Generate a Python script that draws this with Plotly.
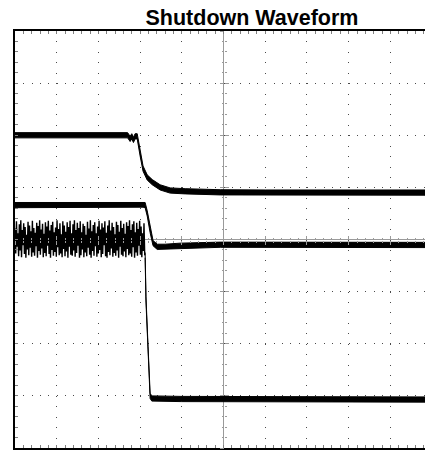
import numpy as np
import plotly.graph_objects as go

# ---------------- data (oscilloscope divisions; time 0 = screen centre) ----------------
# Trace 1 (upper trace): level ~2 div, falls with an RC-like decay to ~0.9 div
t_top = [-5.00, -2.30, -2.24, -2.20, -2.16, -2.12, -2.07, -2.00, -1.93, -1.83, -1.71,
         -1.52, -1.28, -0.92, -0.08, 1.00, 3.00, 4.83]
v_top = [2.00, 2.00, 1.93, 1.98, 1.91, 1.98, 1.98, 1.65, 1.36, 1.19, 1.10,
         1.00, 0.94, 0.925, 0.905, 0.90, 0.90, 0.90]

# Trace 2 (middle trace): level ~0.66 div, fast fall to ~-0.1 div
t_mid = [-5.00, -1.93, -1.88, -1.83, -1.76, -1.69, -1.59, -1.40, -1.04, -0.08, 4.83]
v_mid = [0.66, 0.67, 0.66, 0.50, 0.18, -0.07, -0.14, -0.14, -0.12, -0.10, -0.105]

# Trace 3 (switching node): switching burst before shutdown, then drop to ~-3.06 div
sw_t_start, sw_t_end = -5.00, -1.89
sw_vals = [0.21, -0.27, 0.35, -0.14, 0.12, -0.32, 0.29, -0.21, 0.37, -0.34,
           0.18, -0.11, 0.31, -0.28, 0.24, -0.35, 0.09, -0.19, 0.34, -0.30,
           0.27, -0.16, 0.16, -0.33, 0.36, -0.25, 0.22, -0.31, 0.13, -0.13,
           0.32, -0.35, 0.26, -0.22, 0.37, -0.29, 0.19, -0.17, 0.30, -0.34,
           0.11, -0.26, 0.33, -0.32, 0.25, -0.12, 0.36, -0.28, 0.17, -0.35,
           0.28, -0.20, 0.34, -0.31, 0.14, -0.24, 0.23, -0.33, 0.37, -0.15,
           0.20, -0.30, 0.31, -0.27, 0.10, -0.34, 0.35, -0.18, 0.27, -0.32,
           0.15, -0.23, 0.33, -0.35, 0.24, -0.14, 0.36, -0.29, 0.12, -0.31,
           0.29, -0.21, 0.37, -0.33, 0.18, -0.26, 0.32, -0.12, 0.22, -0.35,
           0.35, -0.30, 0.14, -0.19, 0.30, -0.34, 0.26, -0.25, 0.09, -0.32,
           0.34, -0.16, 0.21, -0.29, 0.37, -0.35, 0.16, -0.22, 0.28, -0.31,
           0.33, -0.13, 0.12, -0.33, 0.25, -0.27, 0.36, -0.20, 0.19, -0.34,
           0.31, -0.28, 0.23, -0.11, 0.35, -0.32, 0.13, -0.35, 0.27, -0.24,
           0.37, -0.30, 0.17, -0.17, 0.32, -0.33, 0.24, -0.26, 0.10, -0.31,
           0.34, -0.21, 0.28, -0.35, 0.15, -0.14, 0.36, -0.29, 0.22, -0.32,
           0.30, -0.23, 0.11, -0.34, 0.33, -0.18, 0.26, -0.30, 0.37, -0.27,
           0.18, -0.33, 0.29, -0.15, 0.35, -0.35, 0.14, -0.25, 0.32, -0.31,
           0.20, -0.12, 0.36, -0.29, 0.25, -0.34, 0.12, -0.22, 0.31, -0.30]
t_low = [-1.88, -1.86, -1.81, -1.76, -1.72, -1.00, 4.83]
v_low = [-0.30, -1.15, -2.10, -3.00, -3.05, -3.06, -3.07]

# trace noise half-width (div)
noise_top, noise_mid, noise_low = 0.05, 0.05, 0.05

title_text = "Shutdown Waveform"

# ---------------- layout constants ----------------
W, H = 425, 451
ML, MR, MT, MB = 15, 0, 31, 3
X_RANGE = [-5.0, 4.83]
Y_RANGE = [-4.0, 4.0]
SUB = 5
px_x = (W - ML - MR) / (X_RANGE[1] - X_RANGE[0])
px_y = (H - MT - MB) / (Y_RANGE[1] - Y_RANGE[0])
dot_v = px_y / SUB   # dot pitch along vertical grid lines
dot_h = px_x / SUB   # dot pitch along horizontal grid lines
GRID = "#4a4a4a"
CENTER = "#9a9a9a"
TICK = "#808080"
x_center_frac = (0 - X_RANGE[0]) / (X_RANGE[1] - X_RANGE[0])
y_center_frac = (0 - Y_RANGE[0]) / (Y_RANGE[1] - Y_RANGE[0])


def band(t, v, n):
    xs = list(t) + list(t[::-1])
    ys = [a + n for a in v] + [a - n for a in v[::-1]]
    return xs, ys


fig = go.Figure()
for t, v, n in [(t_top, v_top, noise_top), (t_mid, v_mid, noise_mid), (t_low, v_low, noise_low)]:
    bx, by = band(t, v, n)
    fig.add_trace(go.Scatter(x=bx, y=by, mode="lines", fill="toself", fillcolor="black",
                             line=dict(color="black", width=1), hoverinfo="skip", showlegend=False))

sw_t = np.linspace(sw_t_start, sw_t_end, len(sw_vals))
fig.add_trace(go.Scatter(x=sw_t, y=sw_vals, mode="lines", line=dict(color="black", width=1.4),
                         showlegend=False, hoverinfo="skip"))
fig.add_trace(go.Scatter(x=[sw_t[-1], t_low[0]], y=[sw_vals[-1], v_low[0]], mode="lines",
                         line=dict(color="black", width=1), showlegend=False, hoverinfo="skip"))

# empty traces to register centre tick axes
for xa, ya in [("x2", "y"), ("x3", "y"), ("x", "y2"), ("x", "y3")]:
    fig.add_trace(go.Scatter(x=[], y=[], xaxis=xa, yaxis=ya, showlegend=False, hoverinfo="skip"))

common_hidden = dict(showgrid=False, zeroline=False, showline=False, showticklabels=False,
                     fixedrange=True)

fig.update_layout(
    width=W, height=H,
    margin=dict(l=ML, r=MR, t=MT, b=MB, pad=0),
    paper_bgcolor="white", plot_bgcolor="white",
    showlegend=False,
    title=dict(text=title_text, x=252 / W, xref="container", xanchor="center",
               y=1 - 17 / H, yref="container", yanchor="middle",
               font=dict(family="Liberation Sans, Arial, sans-serif", size=21.5, color="black",
                         weight="bold")),
    xaxis=dict(range=X_RANGE, dtick=1, tick0=0, showgrid=True, gridcolor=GRID, gridwidth=1,
               griddash=f"1px,{dot_v - 1:.3f}px",
               zeroline=True, zerolinecolor=CENTER, zerolinewidth=1,
               showline=True, linecolor="black", linewidth=2, mirror="allticks",
               ticks="inside", ticklen=3, tickcolor=TICK, tickwidth=1, showticklabels=False,
               minor=dict(dtick=0.2, tick0=0, ticks="inside", ticklen=3, tickcolor=TICK,
                          showgrid=False),
               fixedrange=True),
    yaxis=dict(range=Y_RANGE, dtick=1, tick0=0, showgrid=True, gridcolor=GRID, gridwidth=1,
               griddash=f"1px,{dot_h - 1:.3f}px",
               zeroline=True, zerolinecolor=CENTER, zerolinewidth=1,
               showline=True, linecolor="black", linewidth=2, mirror=False,
               ticks="inside", ticklen=3, tickcolor=TICK, tickwidth=1, showticklabels=False,
               minor=dict(dtick=0.2, tick0=0, ticks="inside", ticklen=3, tickcolor=TICK,
                          showgrid=False),
               fixedrange=True),
    xaxis2=dict(overlaying="x", anchor="free", position=y_center_frac, range=X_RANGE,
                dtick=1, tick0=0, ticks="outside", ticklen=4, tickcolor=CENTER,
                minor=dict(dtick=0.2, tick0=0, ticks="outside", ticklen=2, tickcolor=CENTER),
                **common_hidden),
    xaxis3=dict(overlaying="x", anchor="free", position=y_center_frac, range=X_RANGE,
                dtick=1, tick0=0, ticks="inside", ticklen=4, tickcolor=CENTER,
                minor=dict(dtick=0.2, tick0=0, ticks="inside", ticklen=2, tickcolor=CENTER),
                **common_hidden),
    yaxis2=dict(overlaying="y", anchor="free", position=x_center_frac, range=Y_RANGE,
                dtick=1, tick0=0, ticks="outside", ticklen=4, tickcolor=CENTER,
                minor=dict(dtick=0.2, tick0=0, ticks="outside", ticklen=2, tickcolor=CENTER),
                **common_hidden),
    yaxis3=dict(overlaying="y", anchor="free", position=x_center_frac, range=Y_RANGE,
                dtick=1, tick0=0, ticks="inside", ticklen=4, tickcolor=CENTER,
                minor=dict(dtick=0.2, tick0=0, ticks="inside", ticklen=2, tickcolor=CENTER),
                **common_hidden),
)

fig.write_html(
    "out.html",
    config={"displayModeBar": False, "staticPlot": True},
    post_script="document.body.style.margin='0';document.body.style.padding='0';"
                "document.body.style.overflow='hidden';",
)
